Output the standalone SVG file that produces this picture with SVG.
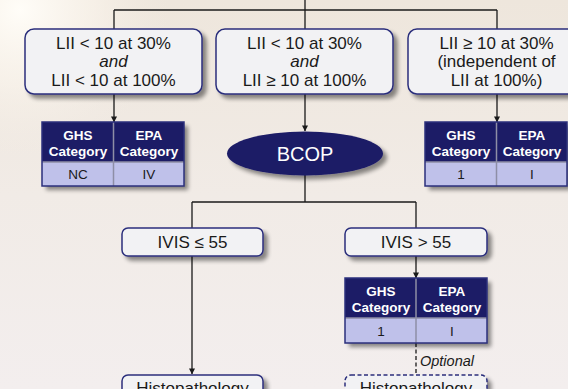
<svg xmlns="http://www.w3.org/2000/svg" width="568" height="389" viewBox="0 0 568 389">
  <defs>
    <linearGradient id="bg" x1="0" y1="0" x2="0" y2="1">
      <stop offset="0" stop-color="#eee6dc"/>
      <stop offset="0.5" stop-color="#f1ebe6"/>
      <stop offset="1" stop-color="#f3eeee"/>
    </linearGradient>
    <radialGradient id="glow" cx="20" cy="10" r="150" gradientUnits="userSpaceOnUse">
      <stop offset="0" stop-color="#fffdf8" stop-opacity="1"/>
      <stop offset="0.5" stop-color="#fbf6ee" stop-opacity="0.6"/>
      <stop offset="1" stop-color="#f3ece4" stop-opacity="0"/>
    </radialGradient>
    <filter id="shadow" x="-10%" y="-10%" width="130%" height="140%">
      <feGaussianBlur in="SourceAlpha" stdDeviation="2.2"/>
      <feOffset dx="4" dy="4" result="b"/>
      <feComponentTransfer><feFuncA type="linear" slope="0.45"/></feComponentTransfer>
      <feMerge><feMergeNode/><feMergeNode in="SourceGraphic"/></feMerge>
    </filter>
    <marker id="arrow" viewBox="0 0 8 8" refX="7.5" refY="4" markerWidth="6" markerHeight="6" markerUnits="userSpaceOnUse" orient="auto">
      <path d="M0,0 L8,4 L0,8 z" fill="#1a1a1a"/>
    </marker>
  </defs>
  <style>
    .box { fill: #f2f2f4; stroke: #2b2f7c; stroke-width: 1.5; }
    .dash { stroke-dasharray: 4 2.5; }
    .txt { font-family: "Liberation Sans", Arial, sans-serif; font-size: 17px; fill: #1a1a1a; text-anchor: middle; }
    .it { font-style: italic; }
    .hd { fill: #1c1b66; }
    .bd { fill: #bfc1ea; }
    .tb { fill: none; stroke: #2b2f7c; stroke-width: 1.5; }
    .div { stroke: #8e8ea6; stroke-width: 1.5; }
    .ht { font-family: "Liberation Sans", Arial, sans-serif; font-size: 13.5px; font-weight: bold; fill: #ffffff; text-anchor: middle; }
    .bt { font-family: "Liberation Sans", Arial, sans-serif; font-size: 13.5px; fill: #1a1a1a; text-anchor: middle; }
    .opt { font-family: "Liberation Sans", Arial, sans-serif; font-size: 14.5px; font-style: italic; fill: #1a1a1a; }
    .line { fill: none; stroke: #1a1a1a; stroke-width: 1.3; }
  </style>

  <rect width="568" height="389" fill="url(#bg)"/>
  <rect width="568" height="389" fill="url(#glow)"/>

  <!-- connectors -->
  <g id="connectors">
    <path class="line" d="M114,10 H497"/>
    <path class="line" d="M305,0 V131" marker-end="url(#arrow)"/>
    <path class="line" d="M114,10 V29"/>
    <path class="line" d="M497,10 V29"/>
    <path class="line" d="M114,94 V122" marker-end="url(#arrow)"/>
    <path class="line" d="M497,94 V122" marker-end="url(#arrow)"/>
    <path class="line" d="M305,175 V202"/>
    <path class="line" d="M192,202 H416"/>
    <path class="line" d="M192,202 V228"/>
    <path class="line" d="M416,202 V228"/>
    <path class="line" d="M192,256 V374" marker-end="url(#arrow)"/>
    <path class="line" d="M416,256 V278" marker-end="url(#arrow)"/>
    <path class="line dash" d="M416,343 V375"/>
    <text class="opt" x="420" y="365.5">Optional</text>
  </g>

  <!-- first-level conditions -->
  <g id="cond-low">
    <rect class="box" x="25" y="29" width="177" height="65" rx="9" filter="url(#shadow)"/>
    <text class="txt" x="113.5" y="48.5">LII &lt; 10 at 30%</text>
    <text class="txt it" x="113.5" y="67">and</text>
    <text class="txt" x="113.5" y="85.5">LII &lt; 10 at 100%</text>
  </g>
  <g id="cond-mid">
    <rect class="box" x="216" y="29" width="177" height="65" rx="9" filter="url(#shadow)"/>
    <text class="txt" x="304.5" y="48.5">LII &lt; 10 at 30%</text>
    <text class="txt it" x="304.5" y="67">and</text>
    <text class="txt" x="304.5" y="85.5">LII ≥ 10 at 100%</text>
  </g>
  <g id="cond-high">
    <rect class="box" x="408" y="29" width="177" height="65" rx="9" filter="url(#shadow)"/>
    <text class="txt" x="496.5" y="48.5">LII ≥ 10 at 30%</text>
    <text class="txt" x="496.5" y="67">(independent of</text>
    <text class="txt" x="496.5" y="85.5">LII at 100%)</text>
  </g>

  <!-- category tables -->
  <g id="table-nc">
    <g filter="url(#shadow)">
      <rect class="hd" x="42" y="122" width="142" height="40"/>
      <rect class="bd" x="42" y="162" width="142" height="24"/>
    </g>
    <line class="div" x1="113.5" y1="122" x2="113.5" y2="186"/>
    <line class="div" x1="42" y1="162" x2="184" y2="162"/>
    <rect class="tb" x="42" y="122" width="142" height="64"/>
    <text class="ht" x="78" y="139.5">GHS</text>
    <text class="ht" x="78" y="156">Category</text>
    <text class="ht" x="149" y="139.5">EPA</text>
    <text class="ht" x="149" y="156">Category</text>
    <text class="bt" x="78" y="179">NC</text>
    <text class="bt" x="149" y="179">IV</text>
  </g>
  <g id="table-high">
    <g filter="url(#shadow)">
      <rect class="hd" x="425" y="122" width="142" height="40"/>
      <rect class="bd" x="425" y="162" width="142" height="24"/>
    </g>
    <line class="div" x1="496.5" y1="122" x2="496.5" y2="186"/>
    <line class="div" x1="425" y1="162" x2="567" y2="162"/>
    <rect class="tb" x="425" y="122" width="142" height="64"/>
    <text class="ht" x="461" y="139.5">GHS</text>
    <text class="ht" x="461" y="156">Category</text>
    <text class="ht" x="532" y="139.5">EPA</text>
    <text class="ht" x="532" y="156">Category</text>
    <text class="bt" x="461" y="179">1</text>
    <text class="bt" x="532" y="179">I</text>
  </g>

  <!-- BCOP test -->
  <g id="bcop">
    <ellipse cx="305" cy="153.5" rx="78" ry="22" fill="#1c1b66" filter="url(#shadow)"/>
    <text class="txt" x="305" y="160.5" style="fill:#ffffff;font-size:20px">BCOP</text>
  </g>

  <!-- second-level conditions -->
  <g id="ivis-low">
    <rect class="box" x="122" y="228" width="141" height="28" rx="6" filter="url(#shadow)"/>
    <text class="txt" x="192.5" y="248">IVIS ≤ 55</text>
  </g>
  <g id="ivis-high">
    <rect class="box" x="345" y="228" width="142" height="28" rx="6" filter="url(#shadow)"/>
    <text class="txt" x="416" y="248">IVIS &gt; 55</text>
  </g>

  <g id="table-ivis">
    <g filter="url(#shadow)">
      <rect class="hd" x="345" y="278" width="142" height="40"/>
      <rect class="bd" x="345" y="318" width="142" height="25"/>
    </g>
    <line class="div" x1="416" y1="278" x2="416" y2="343"/>
    <line class="div" x1="345" y1="318" x2="487" y2="318"/>
    <rect class="tb" x="345" y="278" width="142" height="65"/>
    <text class="ht" x="381" y="295.5">GHS</text>
    <text class="ht" x="381" y="312">Category</text>
    <text class="ht" x="452" y="295.5">EPA</text>
    <text class="ht" x="452" y="312">Category</text>
    <text class="bt" x="381" y="335.5">1</text>
    <text class="bt" x="452" y="335.5">I</text>
  </g>

  <!-- histopathology follow-ups -->
  <g id="histo-low">
    <rect class="box" x="122" y="375" width="141" height="40" rx="6" filter="url(#shadow)"/>
    <text class="txt" x="192.5" y="394">Histopathology</text>
  </g>
  <g id="histo-high">
    <rect class="box dash" x="345" y="375" width="142" height="40" rx="6" filter="url(#shadow)"/>
    <text class="txt" x="416" y="394">Histopathology</text>
  </g>
</svg>
